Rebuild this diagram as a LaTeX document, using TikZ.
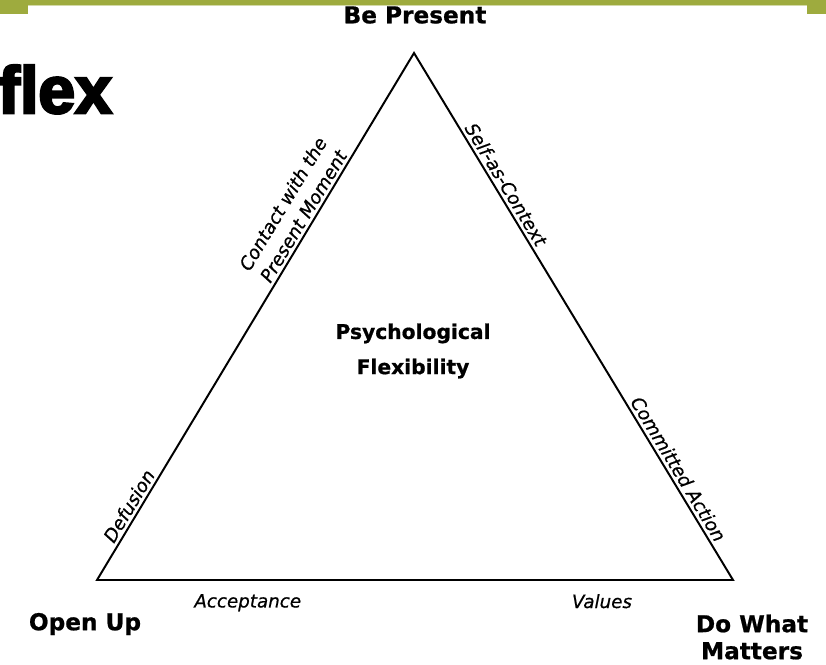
\documentclass[tikz,border=0pt]{standalone}
\usepackage{fontspec}
\setmainfont{DejaVu Sans}[ItalicFeatures={FakeBold=0.6},BoldFeatures={FakeBold=0.8}]
\newfontfamily\heavyfont[FakeBold=4]{Liberation Sans Bold}
\definecolor{barra}{RGB}{158,171,62}

\begin{document}
\begin{tikzpicture}[x=0.025cm,y=-0.025cm,line width=1.4pt,
  vertice/.style={font=\fontsize{16.5}{19.2}\selectfont\bfseries,align=center},
  lado/.style={font=\fontsize{13}{17}\selectfont\itshape,sloped,above,inner sep=2pt,align=center},
  base/.style={font=\fontsize{13}{17}\selectfont\itshape,below=6pt}]
  \useasboundingbox (0,0) rectangle (826,664);
  % barra superior
  \fill[barra] (0,0) rectangle (826,5);
  \fill[barra] (0,0) rectangle (28,14);
  \fill[barra] (807,0) rectangle (826,14);
  \fill[barra!45] (28,5) rectangle (807,6);
  % titulo cortado
  \node[anchor=base west,inner sep=0pt,font=\heavyfont\fontsize{47}{50}\selectfont] (titulo) at (-3,113) {flex};
  % esquinas
  \coordinate (arriba) at (414,53);
  \coordinate (izq) at (97,580);
  \coordinate (der) at (733,580);
  \node[vertice] (bepresent) at (415,15) {Be Present};
  \node[vertice] (openup) at (85,624) {Open Up};
  \node[vertice] (dowhat) at (752,637) {Do What\\Matters};
  \node[font=\fontsize{14.4}{25}\selectfont\bfseries,align=center] (flexib) at (413,351) {Psychological\\Flexibility};
  % lados del triangulo
  \draw (izq) -- node[lado,pos=0.13]{Defusion}
                 node[lado,pos=0.68]{Contact with the\\Present Moment} (arriba)
              -- node[lado,pos=0.26]{Self-as-Context}
                 node[lado,pos=0.8]{Committed Action} (der)
              -- node[base,pos=0.206]{Values}
                 node[base,pos=0.763]{Acceptance} cycle;
\end{tikzpicture}
\end{document}
